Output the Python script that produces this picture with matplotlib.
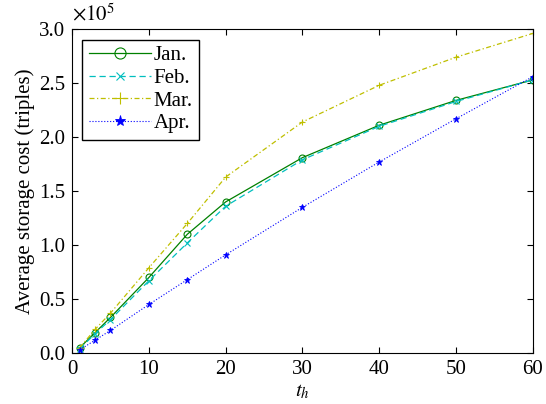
import numpy as np
import matplotlib.pyplot as plt

plt.rcParams['font.family'] = ['Liberation Serif', 'DejaVu Serif']
plt.rcParams['mathtext.fontset'] = 'stix'

t_h = [1, 3, 5, 10, 15, 20, 30, 40, 50, 60]
jan = [0.05, 0.19, 0.33, 0.70, 1.10, 1.40, 1.81, 2.11, 2.34, 2.53]
feb = [0.04, 0.18, 0.31, 0.67, 1.02, 1.36, 1.79, 2.10, 2.33, 2.53]
mar = [0.05, 0.22, 0.37, 0.79, 1.20, 1.63, 2.14, 2.48, 2.74, 2.96]
apr = [0.03, 0.12, 0.21, 0.45, 0.68, 0.91, 1.35, 1.77, 2.17, 2.56]

scale = 1e5

fig = plt.figure(figsize=(5.46, 4.04), dpi=100)
ax = fig.add_axes([0.132, 0.126, 0.844, 0.802])

ax.plot(t_h, np.array(jan) * scale, color=(0, 0.5, 0), linestyle='-', linewidth=0.9,
        marker='o', markersize=5, markeredgewidth=0.8, markerfacecolor='none', label='Jan.')
ax.plot(t_h, np.array(feb) * scale, color=(0, 0.75, 0.75), linestyle='--', linewidth=0.9,
        dashes=(5, 3), marker='x', markersize=4, markeredgewidth=0.8, label='Feb.')
ax.plot(t_h, np.array(mar) * scale, color=(0.75, 0.75, 0), linestyle='-.', linewidth=0.9,
        dashes=(4, 2, 1, 2), marker='+', markersize=5, markeredgewidth=0.8, label='Mar.')
ax.plot(t_h, np.array(apr) * scale, color=(0, 0, 1), linestyle=':', linewidth=0.8,
        marker='*', markersize=5, markeredgewidth=0.6, label='Apr.')

ax.set_xlim(0, 60)
ax.set_ylim(0, 3.0e5)
ax.set_xticks([0, 10, 20, 30, 40, 50, 60])
ax.set_yticks(np.arange(0, 3.01e5, 0.5e5))
ax.yaxis.set_major_formatter(plt.FuncFormatter(lambda v, p: '%.1f' % (v / scale)))
ax.text(0.0, 1.012, r'$\times10^5$', transform=ax.transAxes, fontsize=15,
        ha='left', va='bottom')

ax.tick_params(direction='in', top=True, right=True, labelsize=15, length=4, pad=5)
ax.set_xlabel('$t_h$', fontsize=15, labelpad=2)
ax.set_ylabel('Average storage cost (triples)', fontsize=15, labelpad=3)

leg = ax.legend(loc='upper left', fontsize=15, markerscale=1.6, fancybox=False,
                edgecolor='black', framealpha=1, handlelength=3.0, borderaxespad=0.5,
                labelspacing=0.15, handletextpad=0.1, borderpad=0.3)
leg.get_frame().set_linewidth(1.0)

fig.savefig('out.png', dpi=100)
